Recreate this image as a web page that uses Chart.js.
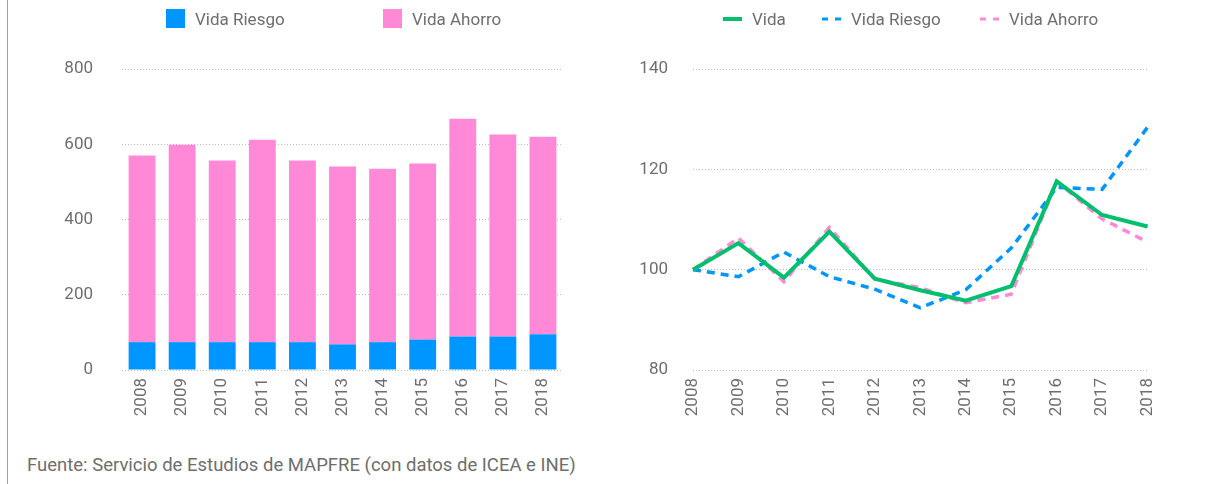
<!DOCTYPE html>
<html lang="es">
<head>
<meta charset="utf-8">
<title>Vida Riesgo y Vida Ahorro</title>
<script src="https://cdn.jsdelivr.net/npm/chart.js@4.4.1/dist/chart.umd.min.js"></script>
<style>
  html, body { margin: 0; padding: 0; background: #ffffff; }
  body { width: 1208px; height: 484px; position: relative; overflow: hidden;
         font-family: Roboto, "Noto Sans", sans-serif; color: #6e6e6e; }
  .rule { position: absolute; left: 7px; top: 0; width: 1px; height: 484px; background: #a0a0a0; }
  canvas { position: absolute; top: 0; }
  #barChart { left: 30px; }
  #lineChart { left: 610px; }
  .leg { position: absolute; top: 9px; height: 19px; display: flex; align-items: center;
         font-size: 17px; color: #6e6e6e; white-space: nowrap; }
  .leg .sw { margin-right: 10px; flex: none; }
  .foot { position: absolute; left: 27px; top: 454px; font-size: 18.5px; line-height: 22px; color: #6e6e6e; white-space: nowrap; }
</style>
</head>
<body>
<div class="rule"></div>
<canvas id="barChart" width="560" height="440"></canvas>
<canvas id="lineChart" width="566" height="440"></canvas>
<div id="legendBar"></div>
<div id="legendLine"></div>
<div class="foot">Fuente: Servicio de Estudios de MAPFRE (con datos de ICEA e INE)</div>

<script>
// Años
const years = ['2008', '2009', '2010', '2011', '2012', '2013', '2014', '2015', '2016', '2017', '2018'];

// Primas (millones de euros)
const primasRiesgo = [74, 74, 74, 74, 74, 68, 74, 81, 89, 89, 95];
const primasAhorro = [496, 525, 483, 538, 483, 473, 461, 468, 579, 537, 525];

// Índices (2008 = 100)
const indiceVida   = [100, 105.3, 98.4, 107.6, 98.2, 95.9, 93.8, 96.7, 117.6, 110.9, 108.6];
const indiceRiesgo = [100, 98.6, 103.5, 98.6, 96.1, 92.4, 96.0, 104.3, 116.4, 116.0, 128.4];
const indiceAhorro = [100, 106.3, 97.6, 108.4, 98.1, 96.4, 93.4, 95.1, 117.6, 110.1, 105.5];

// Ejes
const barTicks  = [0, 200, 400, 600, 800];
const lineTicks = [80, 100, 120, 140];

const BLUE = '#0096ff';
const PINK = '#ff89d6';
const GREEN = '#00c06d';
const TEXT = '#6e6e6e';
const GRID = '#bcbcbc';
const FONT = { family: 'Roboto, "Noto Sans", sans-serif', size: 17 };

Chart.defaults.font = FONT;
Chart.defaults.color = TEXT;

function yScale(ticks, width, pad) {
  return {
    min: ticks[0],
    max: ticks[ticks.length - 1],
    afterBuildTicks(scale) { scale.ticks = ticks.map(v => ({ value: v })); },
    afterFit(scale) { scale.width = width; },
    border: { display: false, dash: [1, 2] },
    grid: { color: GRID, lineWidth: 1, drawTicks: false },
    ticks: { padding: pad, font: FONT, color: TEXT }
  };
}

function xScale(offset) {
  return {
    offset: offset,
    afterFit(scale) { scale.height = 70; },
    border: { display: false },
    grid: { display: false, drawTicks: false },
    ticks: { padding: 8, minRotation: 90, maxRotation: 90, autoSkip: false, font: FONT, color: TEXT }
  };
}

const barChart = new Chart(document.getElementById('barChart'), {
  type: 'bar',
  data: {
    labels: years,
    datasets: [
      { label: 'Vida Riesgo', data: primasRiesgo, backgroundColor: BLUE,
        barPercentage: 0.67, categoryPercentage: 1 },
      { label: 'Vida Ahorro', data: primasAhorro, backgroundColor: PINK,
        barPercentage: 0.67, categoryPercentage: 1 }
    ]
  },
  options: {
    responsive: false,
    animation: false,
    layout: { padding: { top: 69, right: 27, bottom: 0, left: 0 } },
    plugins: { legend: { display: false }, tooltip: { enabled: false } },
    scales: {
      x: Object.assign(xScale(true), { stacked: true }),
      y: Object.assign(yScale(barTicks, 92, 29), { stacked: true })
    }
  }
});

const lineChart = new Chart(document.getElementById('lineChart'), {
  type: 'line',
  data: {
    labels: years,
    datasets: [
      { label: 'Vida', data: indiceVida, borderColor: GREEN, backgroundColor: GREEN,
        borderWidth: 4, borderDash: [], pointRadius: 0, tension: 0 },
      { label: 'Vida Riesgo', data: indiceRiesgo, borderColor: BLUE, backgroundColor: BLUE,
        borderWidth: 3.5, borderDash: [8, 6], pointRadius: 0, tension: 0 },
      { label: 'Vida Ahorro', data: indiceAhorro, borderColor: PINK, backgroundColor: PINK,
        borderWidth: 3.5, borderDash: [8, 6], pointRadius: 0, tension: 0 }
    ]
  },
  options: {
    responsive: false,
    animation: false,
    layout: { padding: { top: 69, right: 16, bottom: 0, left: 0 } },
    plugins: { legend: { display: false }, tooltip: { enabled: false } },
    scales: {
      x: xScale(false),
      y: yScale(lineTicks, 83, 25)
    }
  }
});

// Leyendas construidas a partir de los datasets
function swatchBox(color) {
  const s = document.createElement('span');
  s.className = 'sw';
  s.style.cssText = 'display:inline-block;width:19px;height:19px;background:' + color;
  return s;
}
function swatchLine(ds) {
  const ns = 'http://www.w3.org/2000/svg';
  const svg = document.createElementNS(ns, 'svg');
  svg.setAttribute('width', '19');
  svg.setAttribute('height', '6');
  svg.setAttribute('class', 'sw');
  const l = document.createElementNS(ns, 'line');
  l.setAttribute('x1', '0'); l.setAttribute('y1', '3');
  l.setAttribute('x2', '19'); l.setAttribute('y2', '3');
  l.setAttribute('stroke', ds.borderColor);
  l.setAttribute('stroke-width', ds.borderDash.length ? '3' : '4');
  if (ds.borderDash.length) l.setAttribute('stroke-dasharray', '6 7');
  svg.appendChild(l);
  return svg;
}
function buildLegend(host, chart, lefts, makeSwatch) {
  chart.data.datasets.forEach((ds, i) => {
    const item = document.createElement('div');
    item.className = 'leg';
    item.style.left = lefts[i] + 'px';
    item.appendChild(makeSwatch(ds));
    const t = document.createElement('span');
    t.textContent = ds.label;
    item.appendChild(t);
    host.appendChild(item);
  });
}
buildLegend(document.getElementById('legendBar'), barChart, [166, 383], ds => swatchBox(ds.backgroundColor));
buildLegend(document.getElementById('legendLine'), lineChart, [723, 822, 980], swatchLine);
</script>
</body>
</html>
